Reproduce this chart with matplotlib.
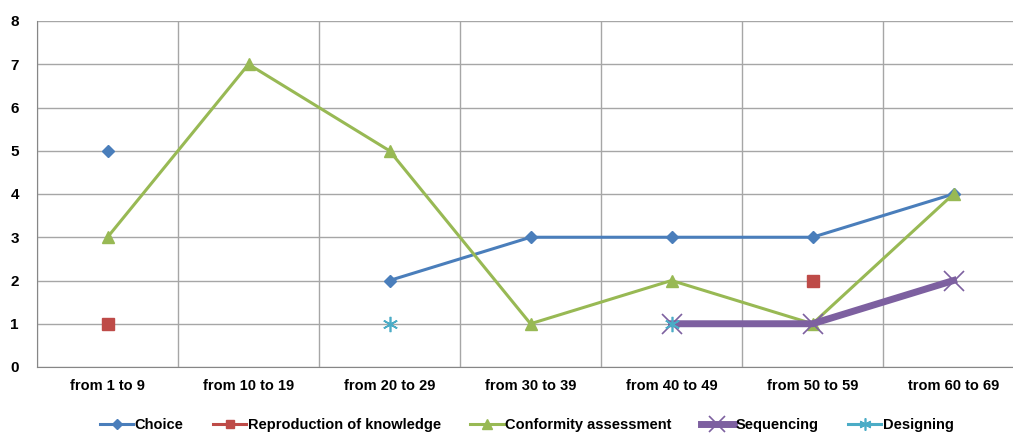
import matplotlib
matplotlib.use("Agg")
import matplotlib.pyplot as plt
import numpy as np

plt.rcParams['font.family'] = ['Liberation Sans', 'DejaVu Sans']

categories = ["from 1 to 9", "from 10 to 19", "from 20 to 29", "from 30 to 39",
              "from 40 to 49", "from 50 to 59", "trom 60 to 69"]
nan = np.nan
choice = [5, nan, 2, 3, 3, 3, 4]
reproduction = [1, nan, nan, nan, nan, 2, nan]
conformity = [3, 7, 5, 1, 2, 1, 4]
sequencing = [nan, nan, nan, nan, 1, 1, 2]
designing = [nan, nan, 1, nan, 1, nan, nan]

x = np.arange(len(categories))

fig = plt.figure(figsize=(10.13, 4.34), dpi=100)
ax = fig.add_axes([37 / 1013, 1 - 367 / 434, (1024 - 37) / 1013, (367 - 21) / 434])

ax.plot(x, choice, color="#4A7EBB", lw=2.2, marker="D", ms=6, label="Choice")
ax.plot(x, reproduction, color="#BE4B48", lw=2.2, marker="s", ms=8, label="Reproduction of knowledge")
ax.plot(x, conformity, color="#98B954", lw=2.2, marker="^", ms=9, label="Conformity assessment")
ax.plot(x, sequencing, color="#7D60A0", lw=5, marker="x", ms=14, mew=1.2, label="Sequencing")
ax.plot(x, designing, color="#4BACC6", lw=2.2, marker=(6, 2, 0), ms=11, mew=1.2, label="Designing")

ax.set_xlim(-0.5, 6.5)
ax.set_ylim(0, 8)
ax.set_xticks(x)
ax.set_xticklabels(categories, fontsize=10.5, fontweight="bold")
ax.set_yticks(range(9))
ax.set_yticklabels([str(i) for i in range(9)], fontsize=11, fontweight="bold")
ax.set_xticks(np.arange(-0.5, 7, 1), minor=True)
ax.grid(True, which="major", axis="y", color="#A6A6A6", lw=1)
ax.grid(True, which="minor", axis="x", color="#A6A6A6", lw=1)
ax.tick_params(axis="both", which="both", length=0)
ax.tick_params(axis="x", pad=9)
ax.tick_params(axis="y", pad=13)
for s in ["top", "right"]:
    ax.spines[s].set_visible(False)
for s in ["left", "bottom"]:
    ax.spines[s].set_color("#868686")
ax.set_axisbelow(True)

fig.legend(loc="center", bbox_to_anchor=(0.52, 1 - 425 / 434), ncol=5,
           frameon=False, prop={"weight": "bold", "size": 10.5},
           markerscale=0.8, handlelength=2.3, handletextpad=0.1, columnspacing=2.0)

fig.savefig("out.png", dpi=100)
